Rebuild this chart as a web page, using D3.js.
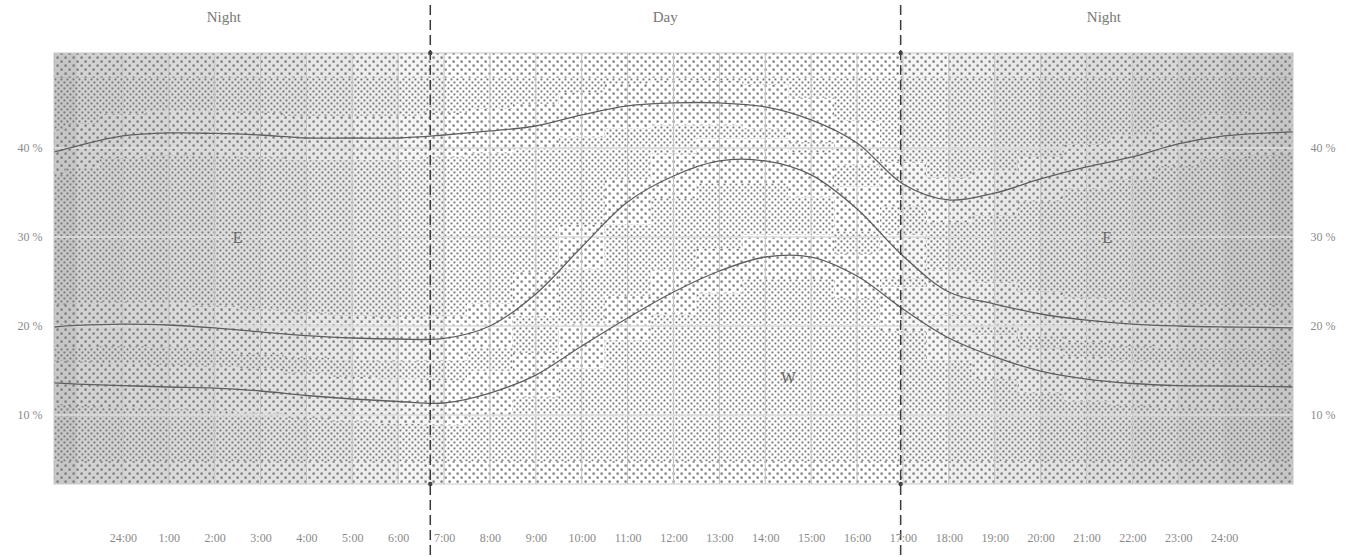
<!DOCTYPE html>
<html><head><meta charset="utf-8">
<script src="https://cdn.jsdelivr.net/npm/d3@7"></script>
<style>body{margin:0;background:#fff}svg{display:block}</style>
</head><body><svg id="c" width="1353" height="557"></svg>
<script>
// ---------- data ----------
const hours  = [-1.5,-1,0,1,2,3,4,5,6,7,8,9,10,11,12,13,14,15,16,17,18,19,20,21,22,23,24,25,25.5];
const upperE = [39.55,40.22,41.35,41.69,41.63,41.46,41.12,41.12,41.12,41.46,41.91,42.47,43.71,44.72,45.06,45.06,44.61,43.15,40.56,35.96,34.16,34.94,36.52,37.87,38.99,40.45,41.35,41.69,41.80];
const middle = [19.89,20.06,20.22,20.11,19.78,19.33,18.93,18.65,18.54,18.60,20.00,23.60,28.88,33.93,36.85,38.54,38.54,36.97,33.15,27.87,23.82,22.47,21.35,20.67,20.22,20.00,19.89,19.83,19.78];
const lower  = [13.60,13.48,13.31,13.15,13.03,12.70,12.19,11.80,11.52,11.35,12.47,14.49,17.75,20.90,23.82,26.18,27.75,27.75,25.62,21.91,18.65,16.52,14.94,14.04,13.54,13.31,13.26,13.20,13.15];

const hourTicks  = [0,1,2,3,4,5,6,7,8,9,10,11,12,13,14,15,16,17,18,19,20,21,22,23,24];
const tickLabels = ["24:00","1:00","2:00","3:00","4:00","5:00","6:00","7:00","8:00","9:00","10:00","11:00","12:00","13:00","14:00","15:00","16:00","17:00","18:00","19:00","20:00","21:00","22:00","23:00","24:00"];
const yTicks = [10,20,30,40];
const yTickLabels = ["10 %","20 %","30 %","40 %"];

const columnStarts = [-2,-1,0,1,2,3,4,5,6,7,8,9,10,11,12,13,14,15,16,17,18,19,20,21,22,23,24,25];
const columnGray   = [198,210,214,218,222,226,231,237,245,255,255,255,255,255,255,255,255,255,255,245,237,231,225,221,216,210,204,198];

const boundaries   = [6.7,16.95];
const periodNames  = ["Night","Day","Night"];
const periodCenter = [2.2,11.82,21.38];
const regionNames  = ["E","E","W"];
const regionHour   = [2.5,21.45,14.5];
const regionValue  = [29.9,29.9,14.27];

// ---------- layout ----------
const L=54,R=1293,T=53,B=484;
const x = d3.scaleLinear().domain([-1.5,25.5]).range([L,R]);
const y = d3.scaleLinear().domain([2.25,50.67]).range([B,T]);
const svg = d3.select("#c");
const defs = svg.append("defs");
const dotCol = "#747474";

// dense pattern
const pd = defs.append("pattern").attr("id","dense").attr("patternUnits","userSpaceOnUse").attr("width",6).attr("height",6);
pd.append("rect").attr("x",0.5).attr("y",0.5).attr("width",1.9).attr("height",1.9).attr("fill",dotCol);
pd.append("rect").attr("x",3.5).attr("y",3.5).attr("width",1.9).attr("height",1.9).attr("fill",dotCol);
// sparse pattern
const ps = defs.append("pattern").attr("id","sparse").attr("patternUnits","userSpaceOnUse").attr("width",8).attr("height",8);
ps.append("rect").attr("x",0.5).attr("y",0.5).attr("width",2.2).attr("height",2.2).attr("fill",dotCol);
ps.append("rect").attr("x",4.5).attr("y",4.5).attr("width",2.2).attr("height",2.2).attr("fill",dotCol);

defs.append("clipPath").attr("id","plotClip").append("rect").attr("x",L).attr("y",T).attr("width",R-L).attr("height",B-T);

const series = [upperE, middle, lower];
const bw = 2.5;
const band = d3.area().x(d=>x(d[0])).y0(d=>y(d[1]-bw)).y1(d=>y(d[1]+bw)).curve(d3.curveStep);
const mS = defs.append("mask").attr("id","mSparse");
mS.append("rect").attr("x",0).attr("y",0).attr("width",1353).attr("height",557).attr("fill","black");
const mD = defs.append("mask").attr("id","mDense");
mD.append("rect").attr("x",0).attr("y",0).attr("width",1353).attr("height",557).attr("fill","white");
series.forEach(s=>{
  const pts = hours.map((h,i)=>[h,s[i]]);
  mS.append("path").attr("d",band(pts)).attr("fill","white");
  mD.append("path").attr("d",band(pts)).attr("fill","black");
});
// top and bottom strips
[[47.9,50.67],[2.25,4.8]].forEach(([a,b])=>{
  mS.append("rect").attr("x",L).attr("width",R-L).attr("y",y(b)).attr("height",y(a)-y(b)).attr("fill","white");
  mD.append("rect").attr("x",L).attr("width",R-L).attr("y",y(b)).attr("height",y(a)-y(b)).attr("fill","black");
});

const plot = svg.append("g").attr("clip-path","url(#plotClip)");
// column shading
plot.selectAll("rect.col").data(columnStarts).join("rect").attr("class","col")
  .attr("x",d=>x(d)).attr("width",d=>x(d+1)-x(d)).attr("y",T).attr("height",B-T)
  .attr("fill",(d,i)=>d3.rgb(columnGray[i],columnGray[i],columnGray[i]));
// dot textures
plot.append("rect").attr("x",L).attr("y",T).attr("width",R-L).attr("height",B-T).attr("fill","url(#dense)").attr("mask","url(#mDense)");
plot.append("rect").attr("x",L).attr("y",T).attr("width",R-L).attr("height",B-T).attr("fill","url(#sparse)").attr("mask","url(#mSparse)");

// grid
plot.selectAll("line.vg").data(hourTicks).join("line").attr("class","vg")
  .attr("x1",d=>x(d)).attr("x2",d=>x(d)).attr("y1",T).attr("y2",B)
  .attr("stroke","#c2c2c2").attr("stroke-width",1);
plot.selectAll("line.hg").data(yTicks).join("line").attr("class","hg")
  .attr("x1",L).attr("x2",R).attr("y1",d=>y(d)).attr("y2",d=>y(d))
  .attr("stroke","#dedede").attr("stroke-width",2).attr("opacity",0.8);

// series lines
const line = d3.line().x(d=>x(d[0])).y(d=>y(d[1])).curve(d3.curveCatmullRom.alpha(0.5));
series.forEach(s=>{
  plot.append("path").attr("d",line(hours.map((h,i)=>[h,s[i]])))
    .attr("fill","none").attr("stroke","#5e5e5e").attr("stroke-width",1.3);
});

// border
svg.append("rect").attr("x",L).attr("y",T).attr("width",R-L).attr("height",B-T)
  .attr("fill","none").attr("stroke","#c8c8c8").attr("stroke-width",1);

// region labels
svg.selectAll("text.reg").data(regionNames).join("text").attr("class","reg")
  .attr("x",(d,i)=>x(regionHour[i])).attr("y",(d,i)=>y(regionValue[i]))
  .attr("text-anchor","middle").attr("dominant-baseline","central")
  .attr("font-family","Liberation Serif, DejaVu Serif, serif").attr("font-size",16).attr("fill","#6a6a6a")
  .text(d=>d);

// day/night boundaries
boundaries.forEach(b=>{
  svg.append("line").attr("x1",x(b)).attr("x2",x(b)).attr("y1",5).attr("y2",557)
    .attr("stroke","#3a3a3a").attr("stroke-width",1.5).attr("stroke-dasharray","10,5");
  [T,B].forEach(yy=>svg.append("circle").attr("cx",x(b)).attr("cy",yy).attr("r",2.2).attr("fill","#444"));
});

// period labels
svg.selectAll("text.per").data(periodNames).join("text").attr("class","per")
  .attr("x",(d,i)=>x(periodCenter[i])).attr("y",17)
  .attr("text-anchor","middle").attr("dominant-baseline","central")
  .attr("font-family","Liberation Serif, DejaVu Serif, serif").attr("font-size",15).attr("fill","#777")
  .text(d=>d);

// x axis labels
const xa = svg.append("g").attr("transform",`translate(0,${B})`)
  .call(d3.axisBottom(x).tickValues(hourTicks).tickSize(0).tickPadding(48).tickFormat((d,i)=>tickLabels[i]));
xa.select(".domain").remove();
xa.selectAll("text").attr("font-family","Liberation Serif, DejaVu Serif, serif").attr("font-size",12).attr("fill","#8a8a8a").attr("dy",null).attr("y",54).attr("dominant-baseline","central");

// y axis labels (both sides)
[[L,-24],[R,30]].forEach(([px,off])=>{
  const g = svg.append("g");
  g.selectAll("text").data(yTicks).join("text")
    .attr("x",px+off).attr("y",d=>y(d)).attr("text-anchor","middle").attr("dominant-baseline","central")
    .attr("font-family","Liberation Serif, DejaVu Serif, serif").attr("font-size",12).attr("fill","#8a8a8a")
    .text((d,i)=>yTickLabels[i]);
});
</script></body></html>
